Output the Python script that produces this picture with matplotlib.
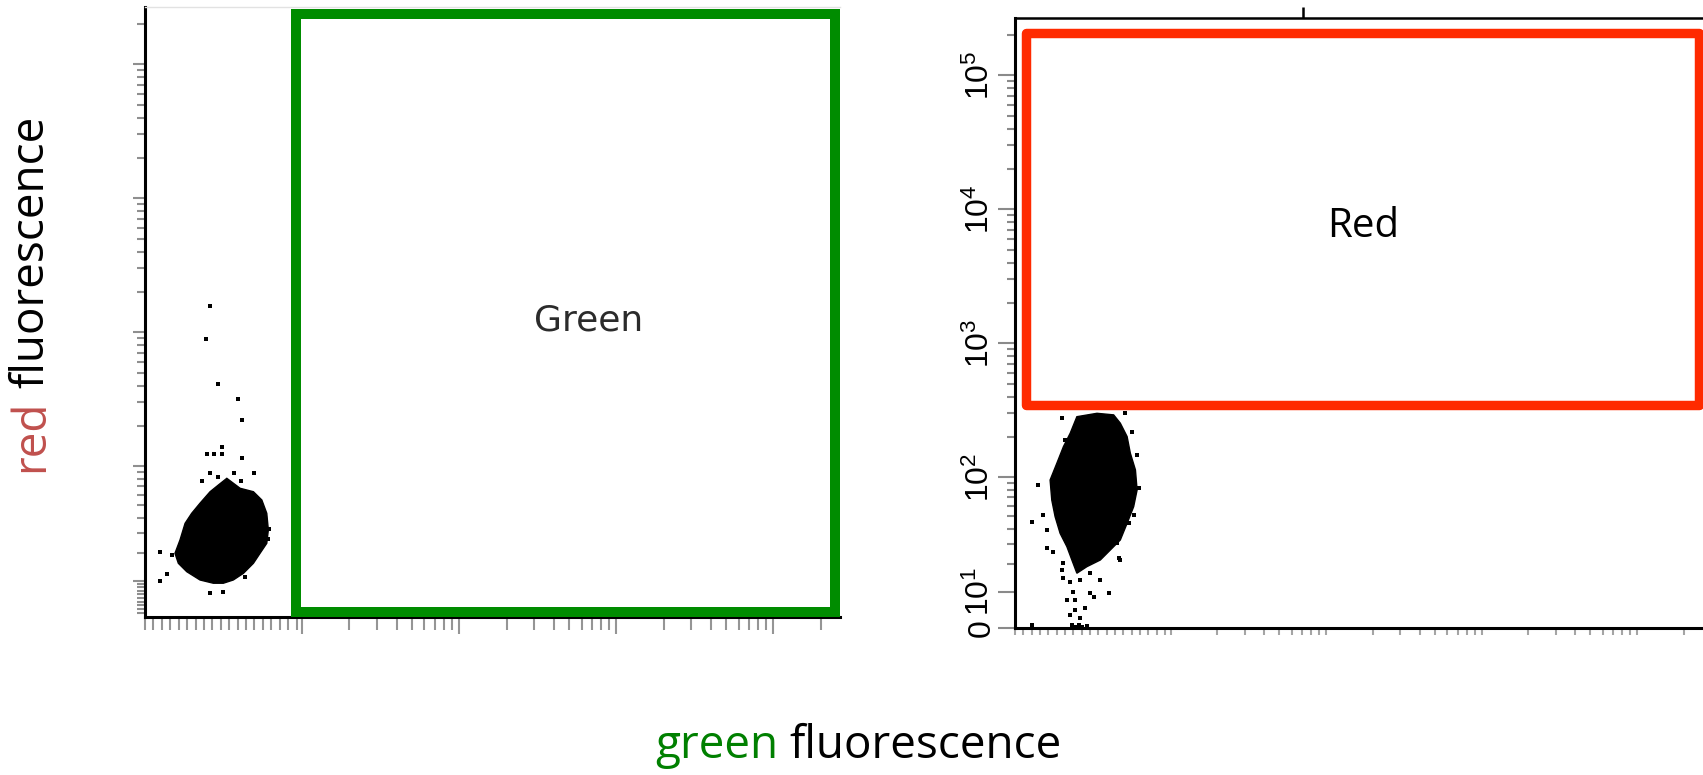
import numpy as np
import matplotlib
matplotlib.use('Agg')
import matplotlib.pyplot as plt
from matplotlib.patches import Rectangle

plt.rcParams['mathtext.fontset'] = 'custom'
plt.rcParams['mathtext.rm'] = 'Liberation Sans'
plt.rcParams['mathtext.it'] = 'Liberation Sans:italic'

# ---------------- data (fluorescence intensities) ----------------
# Left plot: dense core outline of the cell cloud (green, red)
left_core_green = [32.9, 44.7, 56.6, 64.1, 68.5, 69.9, 68.5, 62.5, 56.6, 47.7, 38.7, 29.8,
                   20.9, 9.0, -2.8, -10.3, -13.3, -8.8, -4.3, 1.6, 9.0, 18.0, 25.4]
left_core_red = [80.6, 67.7, 63.7, 55.0, 43.3, 31.8, 24.5, 19.9, 15.9, 12.35, 10.2, 9.2,
                 9.2, 10.2, 12.9, 15.9, 19.9, 26.2, 36.0, 43.3, 51.9, 63.7, 71.7]
# Left plot: individual events outside the core
left_pts_green = [46.2, 28.4, 15.0, 21.8, 28.4, 46.2, 18.0, 39.6, 57.2, 10.6, 25.4, 45.6,
                  -26.6, -20.1, -26.6, 18.0, 29.8, 49.2, 70.8, 69.9, -16.2, 59.6, 18.3,
                  14.7, 24.9, 42.9]
left_pts_red = [221, 138, 122, 122, 122, 114, 88, 88, 88, 77, 82, 77,
                20.6, 12.1, 9.9, 6.4, 6.7, 11.0, 32.4, 26.5, 19.2, 20.6, 1581,
                896, 412, 319]

# Right plot: dense core outline of the cell cloud
right_core_green = [15.7, 33.8, 48.8, 54.8, 60.9, 63.8, 68.4, 69.9, 66.8, 60.9, 54.8, 45.8,
                    36.8, 24.7, 15.7, 11.2, 6.7, 0.6, -3.9, -6.9, -8.4, -2.3, 3.6, 9.7]
right_core_red = [283, 300, 292, 253, 201, 151, 113, 79.7, 59.4, 44.1, 32.4, 26.7,
                  21.8, 18.9, 16.3, 21.8, 28.5, 36.7, 49.7, 66.8, 94.8, 127, 169, 213]
right_pts_green = [3.6, 2.2, 3.6, 9.7, 18.7, 27.7, 36.8, 12.6, 27.7, 44.2, 6.7, 14.2,
                   30.7, 23.2, 14.2, 9.7, 18.7, 11.2, 17.2, 24.7, -24.9, 54.8, 51.8,
                   62.3, 66.8, 71.3, 69.9, 65.4, 59.3, 2.2, 5.2, -19.0, -24.9, -14.4,
                   -11.4, -11.4, -5.4, 53.3, 15.0, 20.0, 25.0]
right_pts_red = [20.3, 17.5, 14.4, 13.2, 13.8, 16.3, 13.8, 10.0, 9.5, 9.5, 7.5, 7.5,
                 8.5, 5.2, 4.7, 3.4, 2.5, 0.77, 0.77, 0.52, 0.77, 21.8, 30.4,
                 44.1, 51.2, 82, 146, 219, 300, 275, 189, 86.9, 45.4, 51.2,
                 39.0, 27.6, 25.8, 22.6, 0.3, 0.3, 0.3]

# Gates (green range, red range)
green_gate_green = [94.7, 2.45e5]
green_gate_red = [1.3, 2.37e5]
red_gate_green = [-30.0, 2.5e5]
red_gate_red = [346.0, 2.07e5]
gate_names = ['Green', 'Red']

# Axis ticks
major_vals = [1e2, 1e3, 1e4, 1e5]
right_ytick_vals = [0, 10, 100, 1000, 10000, 100000]
right_ytick_labels = ['0', '$10^{1}$', '$10^{2}$', '$10^{3}$', '$10^{4}$', '$10^{5}$']
x_limits = (-40, 2.65e5)
y_limits = (0, 2.7e5)

# ---------------- scales (biexponential-like display) ----------------
LIN = 100.0 / 140.0


def fwd_x(x):
    x = np.asarray(x, dtype=float)
    return np.where(x <= 100, x / 100.0 * LIN, LIN + np.log10(np.maximum(x, 100.0) / 100.0))


def inv_x(f):
    f = np.asarray(f, dtype=float)
    return np.where(f <= LIN, f / LIN * 100.0, 100.0 * 10 ** (np.maximum(f, LIN) - LIN))


def fwd_y(y):
    return np.arcsinh(np.asarray(y, dtype=float) / 15.0) / np.log(10)


def inv_y(f):
    return 15.0 * np.sinh(np.asarray(f, dtype=float) * np.log(10))


lin_ticks = list(np.arange(-40, 100, 7.5))
x_minor = lin_ticks + [k * 10 ** n for n in (2, 3, 4) for k in range(2, 10)] + [2e5]
left_y_minor = [k * 10 ** n for n in (0, 1, 2, 3, 4) for k in range(1, 10) if not (k == 1 and n > 0)] + [2e5]
right_y_minor = [k * 10 ** n for n in (1, 2, 3, 4) for k in range(2, 10)] + [2e5]

W, H = 1703, 775
fig = plt.figure(figsize=(W / 100, H / 100), dpi=100)
fig.patch.set_facecolor('white')

axL = fig.add_axes([145 / W, 1 - 617 / H, 695 / W, 610.5 / H])
axR = fig.add_axes([1015 / W, 1 - 628 / H, 688 / W, 610.5 / H])

for ax in (axL, axR):
    ax.set_xscale('function', functions=(fwd_x, inv_x))
    ax.set_yscale('function', functions=(fwd_y, inv_y))
    ax.set_xlim(*x_limits)
    ax.set_ylim(*y_limits)
    ax.spines['right'].set_visible(False)
    ax.set_xticks(major_vals)
    ax.set_xticks(x_minor, minor=True)
    ax.tick_params(axis='x', which='both', labelbottom=False)

# ---- left panel ----
axL.spines['left'].set_linewidth(2.2)
axL.spines['bottom'].set_linewidth(2.2)
axL.spines['top'].set_color('#e2e2e2')
axL.spines['top'].set_linewidth(1.0)
axL.set_yticks([10] + major_vals)
axL.set_yticks(left_y_minor, minor=True)
axL.tick_params(axis='y', which='both', labelleft=False, color='#8f8f8f', width=1.5)
axL.tick_params(axis='y', which='major', length=8.5)
axL.tick_params(axis='y', which='minor', length=6)
axL.tick_params(axis='x', which='both', color='#959595', width=1.5)
axL.tick_params(axis='x', which='major', length=12)
axL.tick_params(axis='x', which='minor', length=9.5)

axL.fill(left_core_green, left_core_red, color='black', lw=1.0, zorder=2)
axL.plot(left_pts_green, left_pts_red, 's', ms=2.5, mew=0, color='black', zorder=2)
axL.add_patch(Rectangle((green_gate_green[0], green_gate_red[0]),
                        green_gate_green[1] - green_gate_green[0],
                        green_gate_red[1] - green_gate_red[0],
                        fill=False, ec='#008c00', lw=7.2, joinstyle='miter',
                        clip_on=False, zorder=3))
axL.text(0.639, 0.485, gate_names[0], transform=axL.transAxes, ha='center', va='center',
         fontsize=26, color='#2b2b2b', family='DejaVu Sans')

# ---- right panel ----
axR.spines['left'].set_linewidth(2.2)
axR.spines['bottom'].set_linewidth(2.2)
axR.spines['top'].set_linewidth(1.8)
axR.set_yticks(right_ytick_vals)
axR.set_yticklabels(right_ytick_labels, rotation=90, va='center', fontsize=23,
                    family='Liberation Sans')
axR.set_yticks(right_y_minor, minor=True)
axR.tick_params(axis='y', which='both', color='#8a8a8a', width=1.5, pad=1.5)
axR.tick_params(axis='y', which='major', length=12)
axR.tick_params(axis='y', which='minor', length=6)
axR.tick_params(axis='x', which='both', color='#a5a5a5', width=1.5, length=5)

axR.fill(right_core_green, right_core_red, color='black', lw=1.0, zorder=2)
axR.plot(right_pts_green, right_pts_red, 's', ms=2.5, mew=0, color='black', zorder=2)
axR.add_patch(Rectangle((red_gate_green[0], red_gate_red[0]),
                        red_gate_green[1] - red_gate_green[0],
                        red_gate_red[1] - red_gate_red[0],
                        fill=False, ec='#ff2a00', lw=6.8, joinstyle='round',
                        clip_on=False, zorder=3))
axR.text(0.506, 0.658, gate_names[1], transform=axR.transAxes, ha='center', va='center',
         fontsize=29, color='black', family='Open Sans')

# top tick on the right panel
axT = axR.twiny()
axT.set_xscale('function', functions=(fwd_x, inv_x))
axT.set_xlim(*x_limits)
axT.set_xticks([713])
axT.tick_params(axis='x', which='major', length=8, width=1.8, color='black', labeltop=False)
axT.tick_params(axis='x', which='minor', length=0)
for s in axT.spines.values():
    s.set_visible(False)

# ---- axis titles (two-coloured) ----
t1 = fig.text(31 / W, 1 - 472 / H, 'red', rotation=90, ha='center', va='bottom',
              color='#c0504d', fontsize=33, family='Open Sans')
axL.annotate('fluorescence', xy=(0.5, 1), xycoords=t1, xytext=(0, 8),
             textcoords='offset points', rotation=90, ha='center', va='bottom',
             color='black', fontsize=33, family='Open Sans', annotation_clip=False)

t3 = fig.text(655 / W, 1 - 769 / H, 'green', ha='left', va='bottom',
              color='#008000', fontsize=33, family='Open Sans')
axL.annotate('fluorescence', xy=(1, 0), xycoords=t3, xytext=(8, 0),
             textcoords='offset points', ha='left', va='bottom',
             color='black', fontsize=33, family='Open Sans', annotation_clip=False)

fig.savefig('out.png', dpi=100, facecolor='white')
